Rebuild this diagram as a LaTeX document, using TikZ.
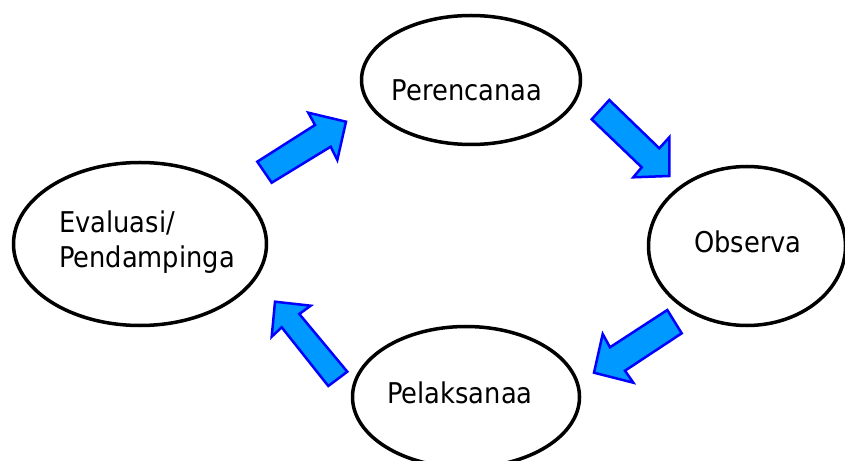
\documentclass[tikz,border=0pt]{standalone}
\usepackage{fontspec}
\setmainfont{DejaVu Sans Condensed}
\usetikzlibrary{shapes.geometric}
\definecolor{arrfill}{RGB}{0,153,255}
\definecolor{arrline}{RGB}{0,0,255}
\begin{document}
\begin{tikzpicture}[x=1bp,y=-1bp,
  oval/.style={draw=black,line width=3.5bp,ellipse,inner sep=0pt},
  lbl/.style={inner sep=0pt,anchor=base,font=\fontsize{28.7}{35}\selectfont},
  blockarrow/.style={fill=arrfill,draw=arrline,line width=2.5bp,line join=miter}]
\useasboundingbox (0,0) rectangle (845,461);
% ellipses
\node[oval,minimum width=219bp,minimum height=129bp] (plan) at (471,80) {};
\node[oval,minimum width=197bp,minimum height=159bp] (obs) at (747,246) {};
\node[oval,minimum width=227bp,minimum height=141bp] (pel) at (466,397) {};
\node[oval,minimum width=253bp,minimum height=163bp] (eva) at (140,244) {};
% labels
\node[lbl] (tplan) at (467,101) {Perencanaa};
\node[lbl] (tobs) at (748,252.5) {Observa};
\node[lbl] (tpel) at (460,403.5) {Pelaksanaa};
\node[lbl,anchor=base west] (teva1) at (59,233) {Evaluasi/};
\node[lbl,anchor=base west] (teva2) at (59,268) {Pendampinga};
% block arrows
\draw[blockarrow] (257.3,161.7) -- (315,125) -- (308.3,112.7) -- (346,121.7)
  -- (337.3,160) -- (330.7,146.7) -- (271.7,182.7) -- cycle;
\draw[blockarrow] (609.3,100) -- (591.7,119.3) -- (641.7,167.3) -- (633.3,177.3)
  -- (669.3,176) -- (669.3,137.3) -- (659.3,148.3) -- cycle;
\draw[blockarrow] (667.3,310) -- (681.7,333.3) -- (625,370.7) -- (633.3,382.7)
  -- (594,372.7) -- (602.7,334) -- (610,347.3) -- cycle;
\draw[blockarrow] (275,301.7) -- (310.7,305.7) -- (299.3,314) -- (347.3,371.7)
  -- (328.3,386) -- (281.7,327.3) -- (271.7,336.7) -- cycle;
\end{tikzpicture}
\end{document}
